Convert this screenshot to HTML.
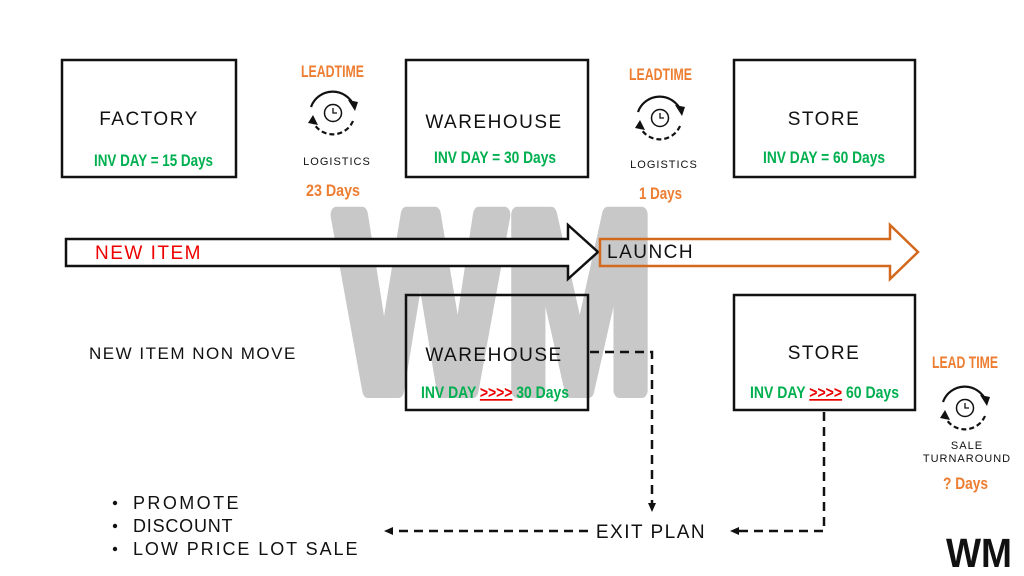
<!DOCTYPE html>
<html><head><meta charset="utf-8"><style>
html,body{margin:0;padding:0;background:#fff;width:1024px;height:576px;overflow:hidden}
svg{display:block}
.h{font-family:"Liberation Sans",sans-serif;font-size:19px;letter-spacing:1.5px;fill:#111}
.s{font-family:"Liberation Sans",sans-serif;font-size:11px;letter-spacing:1px;fill:#111}
.g{font-family:"Liberation Sans",sans-serif;font-weight:bold;font-size:17px;fill:#00b050}
.o{font-family:"Liberation Sans",sans-serif;font-weight:bold;font-size:17px;fill:#ed7d31}
</style></head><body>
<svg width="1024" height="576" viewBox="0 0 1024 576">
<defs>
<marker id="ah" markerUnits="userSpaceOnUse" markerWidth="10" markerHeight="10" refX="5" refY="5" orient="auto"><path d="M0,1 L9,5 L0,9 z" fill="#111"/></marker>
<g id="clk">
<path d="M-22,-6 A23,23 0 0 1 21,-7" fill="none" stroke="#111" stroke-width="2.2"/>
<path d="M15,-13 L22,-2 L25,-11" fill="#111"/>
<path d="M20,8 A22,22 0 0 1 -20,9" fill="none" stroke="#111" stroke-width="2.2" stroke-dasharray="5,3"/>
<path d="M-25,10 L-20,2 L-15,12 z" fill="#111"/>
<circle r="8.5" fill="none" stroke="#111" stroke-width="1.5"/>
<path d="M0,-5 V0 H4" fill="none" stroke="#111" stroke-width="1.3"/>
</g>
</defs>
<g transform="translate(336,390) scale(1,1.34)">
<text x="0" y="0" font-family="Liberation Sans,sans-serif" font-weight="bold" font-size="190" fill="#c8c8c8" stroke="#c8c8c8" stroke-width="12" stroke-linejoin="round" textLength="318" lengthAdjust="spacingAndGlyphs">WM</text>
</g>

<g fill="none" stroke="#111" stroke-width="2.5">
<rect x="62" y="60" width="174" height="117"/>
<rect x="406" y="60" width="182" height="117"/>
<rect x="734" y="60" width="181" height="117"/>
<rect x="406" y="295" width="182" height="115"/>
<rect x="734" y="295" width="181" height="115"/>
</g>
<path d="M66,239 H568 V225 L598,252 L568,279 V266 H66 Z" fill="#fff" stroke="#111" stroke-width="2.5"/>
<path d="M600,239 H890 V225 L918,252 L890,279 V266 H600 Z" fill="none" stroke="#d2691e" stroke-width="2.5"/>

<text class="h" x="149" y="125" text-anchor="middle">FACTORY</text>
<text class="g" x="94" y="166" textLength="119" lengthAdjust="spacingAndGlyphs">INV DAY = 15 Days</text>
<text class="h" x="494" y="128" text-anchor="middle">WAREHOUSE</text>
<text class="g" x="434" y="163" textLength="122" lengthAdjust="spacingAndGlyphs">INV DAY = 30 Days</text>
<text class="h" x="824" y="125" text-anchor="middle">STORE</text>
<text class="g" x="763" y="163" textLength="122" lengthAdjust="spacingAndGlyphs">INV DAY = 60 Days</text>

<text class="o" x="301" y="77" textLength="63" lengthAdjust="spacingAndGlyphs">LEADTIME</text>
<use href="#clk" x="333" y="113"/>
<text class="s" x="337" y="165" text-anchor="middle">LOGISTICS</text>
<text class="o" x="306" y="196" textLength="54" lengthAdjust="spacingAndGlyphs">23 Days</text>
<text class="o" x="629" y="80" textLength="63" lengthAdjust="spacingAndGlyphs">LEADTIME</text>
<use href="#clk" x="660" y="118"/>
<text class="s" x="664" y="168" text-anchor="middle">LOGISTICS</text>
<text class="o" x="639" y="199" textLength="43" lengthAdjust="spacingAndGlyphs">1 Days</text>

<text class="h" x="95" y="259" style="fill:#e00">NEW ITEM</text>
<text class="h" x="607" y="258">LAUNCH</text>

<text class="h" x="89" y="359" style="font-size:17px">NEW ITEM NON MOVE</text>
<text class="h" x="494" y="361" text-anchor="middle">WAREHOUSE</text>
<text class="g" x="421" y="398" textLength="148" lengthAdjust="spacingAndGlyphs">INV DAY <tspan fill="#e00" text-decoration="underline">&gt;&gt;&gt;&gt;</tspan> 30 Days</text>
<text class="h" x="824" y="359" text-anchor="middle">STORE</text>
<text class="g" x="750" y="398" textLength="149" lengthAdjust="spacingAndGlyphs">INV DAY <tspan fill="#e00" text-decoration="underline">&gt;&gt;&gt;&gt;</tspan> 60 Days</text>

<text class="o" x="932" y="368" textLength="66" lengthAdjust="spacingAndGlyphs">LEAD TIME</text>
<use href="#clk" x="965" y="408"/>
<text class="s" x="967" y="449" text-anchor="middle">SALE</text>
<text class="s" x="967" y="462" text-anchor="middle">TURNAROUND</text>
<text class="o" x="943" y="489" textLength="45" lengthAdjust="spacingAndGlyphs">? Days</text>

<g fill="none" stroke="#111" stroke-width="2.5" stroke-dasharray="9,6">
<path d="M590,352 H652 V508" marker-end="url(#ah)"/>
<path d="M824,412 V531 H734" marker-end="url(#ah)"/>
<path d="M588,531 H388" marker-end="url(#ah)"/>
</g>
<text class="h" x="651" y="538" text-anchor="middle">EXIT PLAN</text>

<circle cx="115" cy="503" r="2.2" fill="#111"/><text class="h" x="133" y="509" style="font-size:18px" textLength="107">PROMOTE</text>
<circle cx="115" cy="526" r="2.2" fill="#111"/><text class="h" x="133" y="532" style="font-size:18px" textLength="101">DISCOUNT</text>
<circle cx="115" cy="549" r="2.2" fill="#111"/><text class="h" x="133" y="555" style="font-size:18px" textLength="226">LOW PRICE LOT SALE</text>

<g transform="translate(946,567) scale(1,1.2)">
<text x="0" y="0" font-family="Liberation Sans,sans-serif" font-weight="bold" font-size="34" fill="#111" textLength="66" lengthAdjust="spacingAndGlyphs">WM</text>
</g>
</svg>
</body></html>
